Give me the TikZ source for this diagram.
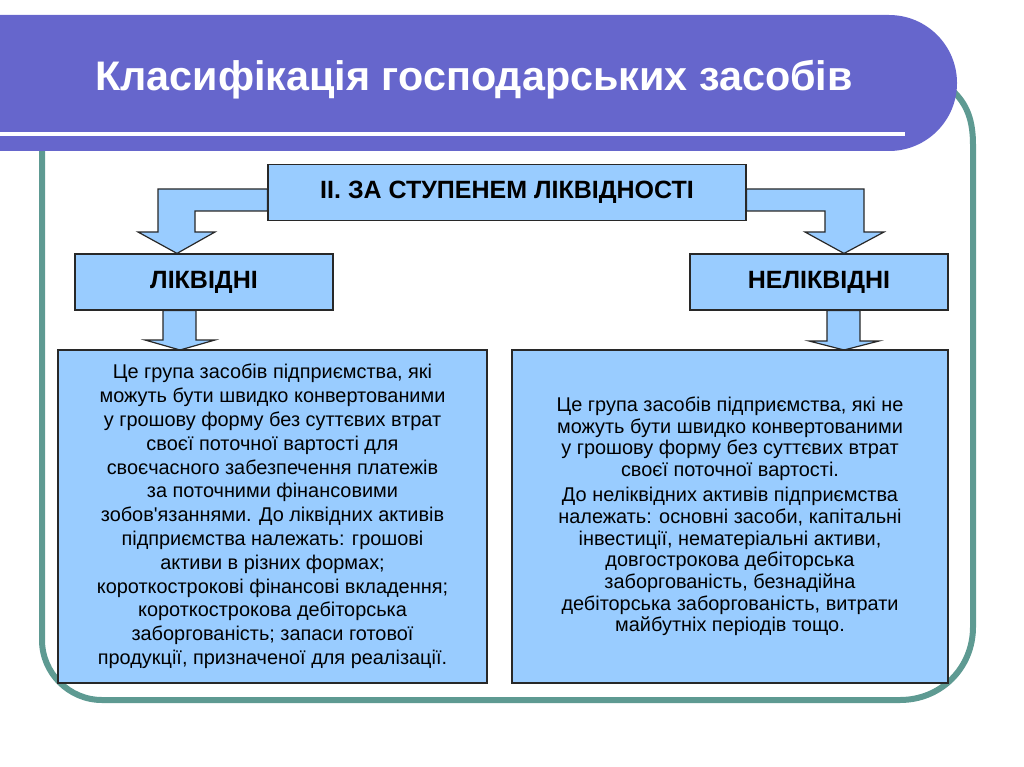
\documentclass[tikz,border=0pt]{standalone}
\usepackage{fontspec}
\setmainfont{Liberation Sans}
\definecolor{bandc}{RGB}{102,102,204}
\definecolor{framec}{RGB}{94,154,146}
\definecolor{boxc}{RGB}{153,204,255}
\definecolor{edgec}{RGB}{40,40,40}
\tikzset{hdrbox/.style={draw=edgec,line width=1.2pt,fill=boxc,minimum height=56pt,font=\bfseries\fontsize{25}{29}\selectfont},
         txtbox/.style={draw=edgec,line width=1.2pt,fill=boxc,align=center,minimum height=333pt},
         barrow/.style={draw=edgec,line width=1.2pt,fill=boxc,line join=miter}}

\begin{document}
\begin{tikzpicture}[x=1pt,y=-1pt]
    \useasboundingbox (0,0) rectangle (1024,767);
    % frame and title band
    \draw[framec,line width=6pt] (42,140) -- (42,640) .. controls (42,673) and (69,700) .. (102,700) -- (900,700)
      .. controls (941,700) and (973,668) .. (973,627) -- (973,145) .. controls (973,120) and (967,104) .. (952,90);
    \fill[bandc] (0,15) [rounded corners=68pt] -- (957,15) -- (957,151) [sharp corners] -- (0,151) -- cycle;
    \draw[white,line width=4pt] (0,134) -- (905,134);
    \node[anchor=base west,text=white,font=\bfseries\fontsize{41.3}{46}\selectfont] (title) at (92,91) {Класифікація господарських засобів};
    % boxes
    \node[hdrbox,minimum width=478pt] (deg) at (507,192.5) {II. ЗА СТУПЕНЕМ ЛІКВІДНОСТІ};
    \node[hdrbox,minimum width=258pt] (liq) at (204,282) {ЛІКВІДНІ};
    \node[hdrbox,minimum width=258pt] (illiq) at (819,282) {НЕЛІКВІДНІ};
    % arrows
    \draw[barrow] (deg.west |- 0,189) -- (158,189) -- (158,232) -- (138,232) -- (177,0 |- liq.north)
      -- (215,232) -- (195,232) -- (195,211) -- (deg.west |- 0,211) -- cycle;
    \draw[barrow] (deg.east |- 0,189) -- (864,189) -- (864,232) -- (884,232) -- (844,0 |- illiq.north)
      -- (805,232) -- (825,232) -- (825,211) -- (deg.east |- 0,211) -- cycle;
    \draw[barrow] (163,0 |- liq.south) -- (163,340) -- (145,340) -- (180,350) -- (215,340) -- (196,340) -- (196,0 |- liq.south) -- cycle;
    \draw[barrow] (827,0 |- illiq.south) -- (827,341) -- (809,341) -- (844,350) -- (879,341) -- (860,341) -- (860,0 |- illiq.south) -- cycle;
    \node[txtbox,minimum width=429pt,font=\fontsize{19.9}{23.8}\selectfont] (liqtxt) at (272.5,516.5)
      {Це група засобів підприємства, які\\ можуть бути швидко конвертованими\\ у грошову форму без суттєвих втрат\\
       своєї поточної вартості для\\ своєчасного забезпечення платежів\\ за поточними фінансовими\\
       зобов\textquotesingle язаннями. До ліквідних активів\\ підприємства належать: грошові\\ активи в різних формах;\\
       короткострокові фінансові вкладення;\\ короткострокова дебіторська\\ заборгованість; запаси готової\\
       продукції, призначеної для реалізації.};
    \node[txtbox,minimum width=436pt,font=\fontsize{19.9}{21.7}\selectfont] (illiqtxt) at (730,516.5)
      {Це група засобів підприємства, які не\\ можуть бути швидко конвертованими\\ у грошову форму без суттєвих втрат\\
       своєї поточної вартості.\\[3.5pt] До неліквідних активів підприємства\\ належать: основні засоби, капітальні\\
       інвестиції, нематеріальні активи,\\ довгострокова дебіторська\\ заборгованість, безнадійна\\
       дебіторська заборгованість, витрати\\ майбутніх періодів тощо.};
\end{tikzpicture}
\end{document}
